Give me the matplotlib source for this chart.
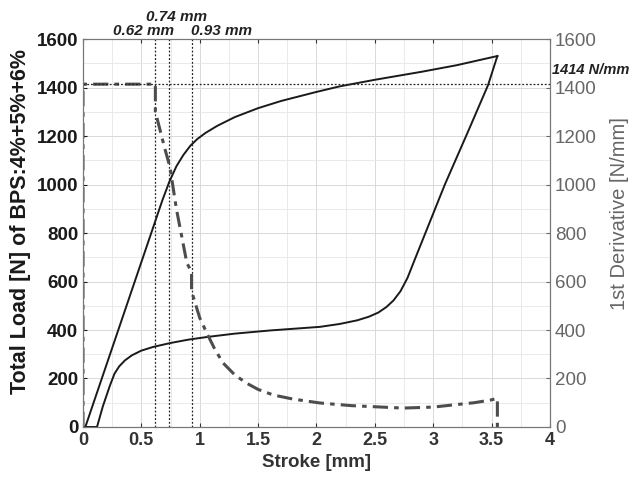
import matplotlib.pyplot as plt
from matplotlib.ticker import MultipleLocator

plt.rcParams['font.family'] = ['Liberation Sans', 'DejaVu Sans']

# loading branch of the load-stroke curve
load_x = [0.0, 0.02, 0.62, 0.68, 0.74, 0.80, 0.86, 0.92, 0.98, 1.05, 1.15, 1.30, 1.50, 1.70,
          2.00, 2.20, 2.50, 2.90, 3.20, 3.55]
load_y = [0, 0, 850, 935, 1012, 1075, 1122, 1160, 1188, 1213, 1242, 1278, 1315, 1345,
          1382, 1405, 1432, 1465, 1492, 1530]
# unloading branch
unload_x = [3.55, 3.47, 3.30, 3.10, 2.95, 2.85, 2.78, 2.72, 2.66, 2.60, 2.53, 2.45, 2.35, 2.20,
            2.03, 1.80, 1.60, 1.30, 1.06, 0.90, 0.745, 0.60, 0.50, 0.42, 0.36, 0.31, 0.27,
            0.23, 0.17, 0.12, 0.0]
unload_y = [1530, 1410, 1220, 1000, 820, 700, 615, 560, 522, 495, 472, 455, 440, 425,
            413, 405, 398, 385, 371, 360, 346, 330, 315, 296, 275, 250, 220,
            170, 85, 0, 0]

# first derivative of the loading branch
der_x = [0, 0, 0.62, 0.62, 0.66, 0.70, 0.745, 0.80, 0.83, 0.89, 0.93, 0.93, 1.00, 1.06, 1.13,
         1.20, 1.30, 1.40, 1.50, 1.63, 1.80, 2.03, 2.30, 2.74, 3.00, 3.17, 3.35, 3.49, 3.55, 3.55]
der_y = [0, 1414, 1414, 1300, 1225, 1150, 1072, 900, 825, 676, 640, 560, 450, 388, 320,
         264, 215, 181, 155, 132, 115, 99, 88, 78, 82, 91, 100, 111, 118, 0]

marks = [0.62, 0.74, 0.93]
mark_labels = ['0.62 mm', '0.74 mm', '0.93 mm']
stiffness = 1414

fig = plt.figure(figsize=(6.35, 4.84), dpi=100)
ax = fig.add_axes([0.1307, 0.1178, 0.7353, 0.8015])
ax2 = ax.twinx()

ax.set_xlim(0, 4)
ax.set_ylim(0, 1600)
ax2.set_ylim(0, 1600)

ax.xaxis.set_major_locator(MultipleLocator(0.5))
ax.xaxis.set_minor_locator(MultipleLocator(0.25))
ax.yaxis.set_major_locator(MultipleLocator(200))
ax.yaxis.set_minor_locator(MultipleLocator(100))
ax2.yaxis.set_major_locator(MultipleLocator(200))
ax.grid(True, which='major', color='#d9d9d9', lw=0.7)
ax.grid(True, which='minor', color='#e6e6e6', lw=0.6)
ax.set_axisbelow(True)

ax.plot(load_x, load_y, color='#1a1a1a', lw=1.4)
ax.plot(unload_x, unload_y, color='#1a1a1a', lw=1.4)
ax2.plot(der_x, der_y, color='#4d4d4d', lw=2.2, ls=(0, (5, 2, 1.5, 2)))

for m in marks:
    ax.axvline(m, color='#222222', lw=0.9, ls=(0, (1.5, 1.5)))
ax2.axhline(stiffness, color='#222222', lw=0.9, ls=(0, (1.5, 1.5)))

txt = dict(ha='center', va='center', fontsize=11, fontweight='bold', style='italic',
           color='#222222')
ax.text(0.52, 1632, mark_labels[0], **txt)
ax.text(0.80, 1690, mark_labels[1], **txt)
ax.text(1.19, 1632, mark_labels[2], **txt)
ax2.text(4.02, 1472, f'{stiffness} N/mm', ha='left', va='center', fontsize=10.5,
         fontweight='bold', style='italic', color='#222222', clip_on=False)

ax.tick_params(which='both', direction='in', top=True, length=3, color='#555555')
ax.tick_params(which='minor', length=0)
ax.tick_params(axis='y', labelsize=13.5, colors='#1a1a1a')
ax.tick_params(axis='x', labelsize=13, colors='#333333')
ax2.tick_params(direction='in', length=3, labelsize=13.5, colors='#666666')

ax.set_xticks([0, 0.5, 1, 1.5, 2, 2.5, 3, 3.5, 4])
ax.set_xticklabels(['0', '0.5', '1', '1.5', '2', '2.5', '3', '3.5', '4'])
for lab in ax.get_xticklabels() + ax.get_yticklabels():
    lab.set_fontweight('bold')

for s in ax.spines.values():
    s.set_color('#777777')
for s in ax2.spines.values():
    s.set_color('#777777')

ax.set_xlabel('Stroke [mm]', fontsize=13.5, fontweight='bold', color='#333333', labelpad=4)
ax.set_ylabel('Total Load [N] of BPS:4%+5%+6%', fontsize=15.5, fontweight='bold',
              color='#1a1a1a', labelpad=2)
ax.yaxis.set_label_coords(-0.112, 0.53)
ax2.set_ylabel('1st Derivative [N/mm]', fontsize=14.5, color='#666666', labelpad=6)
ax2.yaxis.set_label_coords(1.128, 0.55)

fig.savefig('out.png', dpi=100)
